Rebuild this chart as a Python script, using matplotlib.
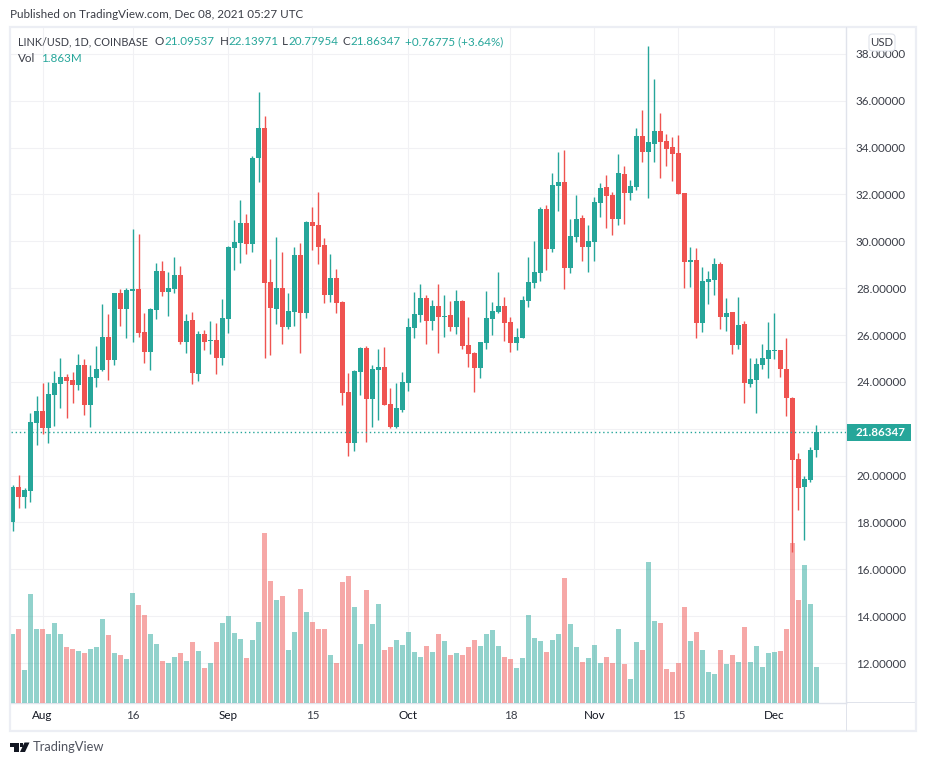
import matplotlib
matplotlib.use("Agg")
import matplotlib.pyplot as plt
from matplotlib.patches import Rectangle, Polygon, FancyBboxPatch
import pandas as pd
import numpy as np

W, H = 926, 765
FONT = ["Lato", "DejaVu Sans"]
plt.rcParams["font.family"] = FONT

opens = [18.04,19.52,19.09,19.35,22.25,22.76,22.03,23.44,23.91,24.21,24.08,23.87,24.72,23.02,24.17,24.51,25.92,24.94,27.80,27.11,
 27.88,27.97,26.13,25.28,27.07,28.73,27.84,27.97,28.56,25.70,26.64,24.34,26.05,25.75,25.79,25.02,26.69,29.72,29.93,30.78,
 29.89,33.56,34.84,28.26,27.11,28.01,26.34,26.98,29.42,26.94,30.83,30.70,29.84,27.71,28.44,27.41,23.57,21.39,24.42,25.45,
 23.27,24.51,24.64,23.06,22.08,22.80,23.95,26.30,26.86,27.58,26.60,27.24,26.77,26.86,26.34,27.45,25.58,25.23,24.59,25.66,
 26.69,26.98,27.24,26.56,25.66,25.87,27.45,28.22,28.65,31.37,29.67,32.36,32.53,28.86,30.18,31.00,29.76,29.97,31.64,32.32,
 31.98,30.95,32.87,32.06,32.32,34.50,33.81,34.15,34.71,34.28,34.03,33.77,32.06,29.12,29.21,26.52,28.27,28.36,29.04,26.78,
 27.00,25.59,26.48,23.92,24.09,24.73,24.99,25.33,25.37,24.56,23.33,20.72,19.53,19.83,21.09537]
highs = [19.60,20.03,19.47,22.67,23.40,23.95,24.00,24.47,25.02,24.34,24.42,25.19,24.98,24.72,25.53,27.33,26.90,27.80,27.97,28.01,
 30.53,30.31,26.94,27.16,29.08,29.16,28.69,29.33,28.95,26.90,26.98,26.17,26.22,26.60,26.51,27.54,29.80,30.91,31.76,31.17,
 33.64,36.37,35.35,29.25,30.18,29.54,27.80,29.76,29.93,30.87,31.47,32.11,30.14,29.46,28.82,27.45,24.38,24.51,25.49,25.53,
 24.72,25.41,25.49,23.74,23.95,24.42,26.73,27.84,28.18,27.71,27.50,28.18,27.71,27.45,27.92,27.50,26.77,25.28,25.70,27.88,
 27.41,28.69,27.62,26.77,26.30,27.67,29.33,30.01,31.47,31.54,32.91,33.81,33.89,30.95,31.98,31.12,30.70,31.89,32.49,32.83,
 32.11,33.73,33.21,32.62,34.84,35.60,38.34,36.93,35.48,34.58,34.45,34.54,32.06,29.76,29.72,28.91,28.74,29.29,29.12,27.59,
 27.00,27.64,26.61,25.03,25.03,25.63,26.57,26.95,25.37,25.89,23.37,20.98,20.00,21.23,22.13971]
lows = [17.65,18.63,18.63,18.88,21.31,21.78,21.39,22.12,22.89,22.46,23.10,23.66,22.59,22.08,23.78,24.47,24.08,24.72,26.39,25.87,
 25.70,25.92,24.81,24.51,26.69,27.67,26.81,27.80,25.62,25.23,23.91,24.04,25.36,25.19,24.34,24.72,26.09,28.78,29.08,29.46,
 29.54,32.53,25.02,25.15,26.47,25.62,26.26,26.39,25.23,26.73,29.63,29.03,27.37,27.41,26.94,23.02,20.84,21.05,23.44,21.44,
 22.08,22.38,23.02,22.03,22.03,22.72,23.61,25.87,26.56,25.62,26.22,25.23,25.92,26.17,26.05,25.41,24.64,23.57,24.17,25.41,
 26.00,26.94,25.75,25.28,25.36,25.87,27.20,28.01,28.31,28.78,29.54,31.29,27.97,28.65,29.97,29.16,28.69,29.16,31.04,30.57,
 30.27,30.70,30.74,31.76,32.19,33.39,31.85,33.39,32.70,33.21,32.57,32.02,28.01,28.06,25.88,26.14,27.33,27.72,26.26,26.18,
 25.20,25.42,23.11,23.80,22.69,24.56,24.18,24.99,24.22,22.56,16.75,18.55,17.27,19.74,20.77954]
closes = [19.52,19.09,19.39,22.29,22.76,22.03,23.49,23.95,24.21,24.04,23.87,24.72,23.02,24.21,24.55,25.92,24.94,27.80,27.11,27.92,
 27.97,26.09,25.28,27.11,28.73,27.84,28.01,28.56,25.70,26.60,24.38,26.05,25.70,25.79,25.02,26.73,29.76,29.97,30.78,29.89,
 33.56,34.84,28.22,27.16,28.01,26.34,27.03,29.42,26.94,30.83,30.65,29.76,27.71,28.44,27.37,23.53,21.39,24.47,25.45,23.27,
 24.55,24.64,23.02,22.08,22.89,24.00,26.34,26.90,27.58,26.60,27.24,26.77,26.81,26.34,27.45,25.53,25.19,24.59,25.70,26.73,
 27.03,27.24,26.51,25.66,25.92,27.50,28.26,28.69,31.38,29.67,32.40,32.53,28.86,30.23,30.95,29.76,30.01,31.68,32.28,31.93,
 30.95,32.92,32.06,32.36,34.50,33.81,34.24,34.71,34.24,33.94,33.73,32.02,29.12,29.21,26.52,28.31,28.40,29.04,26.78,26.95,
 25.59,26.44,23.97,24.14,24.78,25.03,25.37,25.37,24.56,23.33,20.68,19.49,19.87,21.11,21.86347]
volumes_m = [3.52,3.83,1.66,5.64,3.78,3.83,3.57,4.09,3.57,2.85,2.79,2.64,2.54,2.79,2.85,4.30,3.47,2.54,2.48,2.23,
 5.69,5.07,4.55,3.52,3.05,2.17,2.07,2.38,2.54,2.17,3.11,2.64,1.76,2.07,3.11,4.09,4.50,3.62,3.31,2.28,
 3.21,4.19,8.75,6.31,5.33,5.49,2.74,3.67,5.85,4.66,4.19,3.78,3.78,2.48,2.02,6.26,6.57,4.92,3.05,5.80,
 4.04,5.12,2.74,2.85,3.26,3.00,3.67,2.59,2.38,2.95,2.59,3.57,3.16,2.48,2.54,2.48,2.85,3.21,2.90,3.52,
 3.73,2.95,2.33,2.23,1.81,2.28,4.55,3.36,3.16,2.59,3.21,3.57,6.42,4.04,2.85,2.12,2.28,3.00,2.07,2.38,
 2.07,3.83,1.97,1.24,3.11,2.74,7.25,4.24,4.14,1.71,1.60,2.02,4.92,3.16,3.67,2.74,1.60,1.50,2.74,1.97,
 2.48,2.12,3.93,2.12,2.95,1.86,2.54,2.59,2.64,3.83,8.28,5.28,7.14,5.12,1.863]
dates = pd.date_range("2021-07-27", periods=len(closes), freq="D")
x_tick_dates = ["2021-08-01","2021-08-16","2021-09-01","2021-09-15","2021-10-01","2021-10-18","2021-11-01","2021-11-15","2021-12-01"]
x_tick_labels = ["Aug","16","Sep","15","Oct","18","Nov","15","Dec"]
price_ticks = [12,14,16,18,20,22,24,26,28,30,32,34,36,38]
price_tick_labels = ["12.00000","14.00000","16.00000","18.00000","20.00000","","24.00000","26.00000","28.00000","30.00000","32.00000","34.00000","36.00000","38.00000"]
last_price = closes[-1]

TEAL, RED = "#26a69a", "#ef5350"
GRID = "#f1f1f4"; BORDER = "#e0e3eb"; FRAME = "#eceef4"
TXT = "#131722"; TXT2 = "#3b3e48"
FS = 8.4

fig = plt.figure(figsize=(W/100, H/100), dpi=100, facecolor="white")

def fx(x): return x / W
def fy(y): return 1 - y / H

L, R, T, B = 10.5, 846.0, 27.5, 702.5
pos = [fx(L), fy(B), (R - L)/W, (B - T)/H]
ylim = (30 + (241.3 - B)/23.43, 30 + (241.3 - T)/23.43)
xlim = ((L - 12.5)/6, (R - 12.5)/6)
vol_top = (B - T) / 19.32

ax = fig.add_axes(pos, zorder=1)
ax_v = fig.add_axes(pos, zorder=2, facecolor="none")
ax_c = fig.add_axes(pos, zorder=3, facecolor="none")
for a in (ax, ax_v, ax_c):
    a.set_xlim(*xlim)
for a in (ax, ax_c):
    a.set_ylim(*ylim)
ax_v.set_ylim(0, vol_top)
for a in (ax_v, ax_c):
    a.axis("off")

# grid + axes
idx = np.arange(len(closes))
date_index = {d.strftime("%Y-%m-%d"): i for i, d in enumerate(dates)}
xt = [date_index[d] for d in x_tick_dates]
ax.set_xticks(xt); ax.set_xticklabels(x_tick_labels)
ax.set_yticks(price_ticks); ax.set_yticklabels(price_tick_labels)
ax.yaxis.tick_right()
ax.grid(True, color=GRID, lw=0.75)
ax.set_axisbelow(True)
ax.tick_params(axis="y", length=0, pad=7.2, labelsize=FS, labelcolor=TXT2)
ax.tick_params(axis="x", length=0, pad=5.5, labelsize=FS, labelcolor=TXT2)
for lab in ax.get_xticklabels():
    if lab.get_text().isalpha():
        lab.set_color(TXT)
for s in ("left", "top"):
    ax.spines[s].set_visible(False)
ax.spines["bottom"].set_color(BORDER); ax.spines["bottom"].set_linewidth(1)
ax.spines["right"].set_color(BORDER); ax.spines["right"].set_linewidth(1)

colors = [TEAL if c >= o else RED for o, c in zip(opens, closes)]

# volume
ax_v.bar(idx, volumes_m, width=5/6, color=colors, alpha=0.5, linewidth=0)

# candles
ax_c.vlines(idx, lows, highs, colors=colors, lw=1.0)
body_low = [min(o, c) for o, c in zip(opens, closes)]
body_h = [max(abs(c - o), 0.04) for o, c in zip(opens, closes)]
ax_c.bar(idx, body_h, bottom=body_low, width=5/6, color=colors, linewidth=0)

# last price line
ax_c.axhline(last_price, color=TEAL, lw=1.0, linestyle=(0, (1, 2)))

# figure-level decoration
def frect(x0, y0, x1, y1, **kw):
    r = Rectangle((fx(x0), fy(y1)), (x1 - x0)/W, (y1 - y0)/H, transform=fig.transFigure, **kw)
    fig.add_artist(r); return r

frect(9.5, 26.5, 916, 730.5, fill=False, edgecolor=FRAME, lw=1.6, zorder=10)
frect(846, 26.5, 846.8, 730.5, facecolor=BORDER, edgecolor="none", zorder=10)
frect(846, 702, 915, 702.8, facecolor=BORDER, edgecolor="none", zorder=10)

# price label
frect(846.5, 424, 911, 441, facecolor=TEAL, edgecolor="none", zorder=11)
fig.text(fx(855.5), fy(432.8), f"{last_price:.5f}", color="white", fontsize=FS, fontweight="bold",
         va="center", ha="left", zorder=12)

# USD box
box = FancyBboxPatch((fx(869), fy(51)), 26/W, 17/H, boxstyle="round,pad=0,rounding_size=0.004",
                     transform=fig.transFigure, facecolor="white", edgecolor=BORDER, lw=0.8, zorder=11)
fig.add_artist(box)
fig.text(fx(882), fy(42.5), "USD", color=TXT2, fontsize=8.2, ha="center", va="center", zorder=12)

# header texts
def t(x, y, s, color=TXT2, size=FS, **kw):
    return fig.text(fx(x), fy(y), s, color=color, fontsize=size, va="center", ha="left", zorder=12, **kw)

t(10, 15, "Published on TradingView.com, Dec 08, 2021 05:27 UTC", color="#3a3d46")
t(18, 41.5, "LINK/USD, 1D, COINBASE", size=7.85)
t(154.5, 41.5, "O"); t(164.8, 41.5, "21.09537", color=TEAL)
t(219.5, 41.5, "H"); t(228, 41.5, "22.13971", color=TEAL)
t(282.3, 41.5, "L"); t(288.7, 41.5, "20.77954", color=TEAL)
t(342.5, 41.5, "C"); t(350.5, 41.5, "21.86347", color=TEAL)
t(405, 41.5, "+0.76775 (+3.64%)", color=TEAL)
t(18, 59, "Vol"); t(41.3, 59, "1.863M", color=TEAL)

# logo
LOGO = "#131722"
def fp(pts):
    p = Polygon([(fx(a), fy(b)) for a, b in pts], closed=True, transform=fig.transFigure,
                facecolor=LOGO, edgecolor="none", zorder=12)
    fig.add_artist(p)
fp([(10, 742.5), (18.5, 742.5), (18.5, 752), (14.5, 752), (14.5, 746.5), (10, 746.5)])
fig.add_artist(Rectangle((fx(19.6), fy(746.8)), 3.6/W, 3.8/H, transform=fig.transFigure, facecolor=LOGO, edgecolor="none", zorder=12))
fp([(24.5, 742.5), (29.5, 742.5), (25, 752), (20, 752)])
t(33, 747, "TradingView", color="#50535e", size=9.3)

fig.savefig("out.png", dpi=100, facecolor="white")
